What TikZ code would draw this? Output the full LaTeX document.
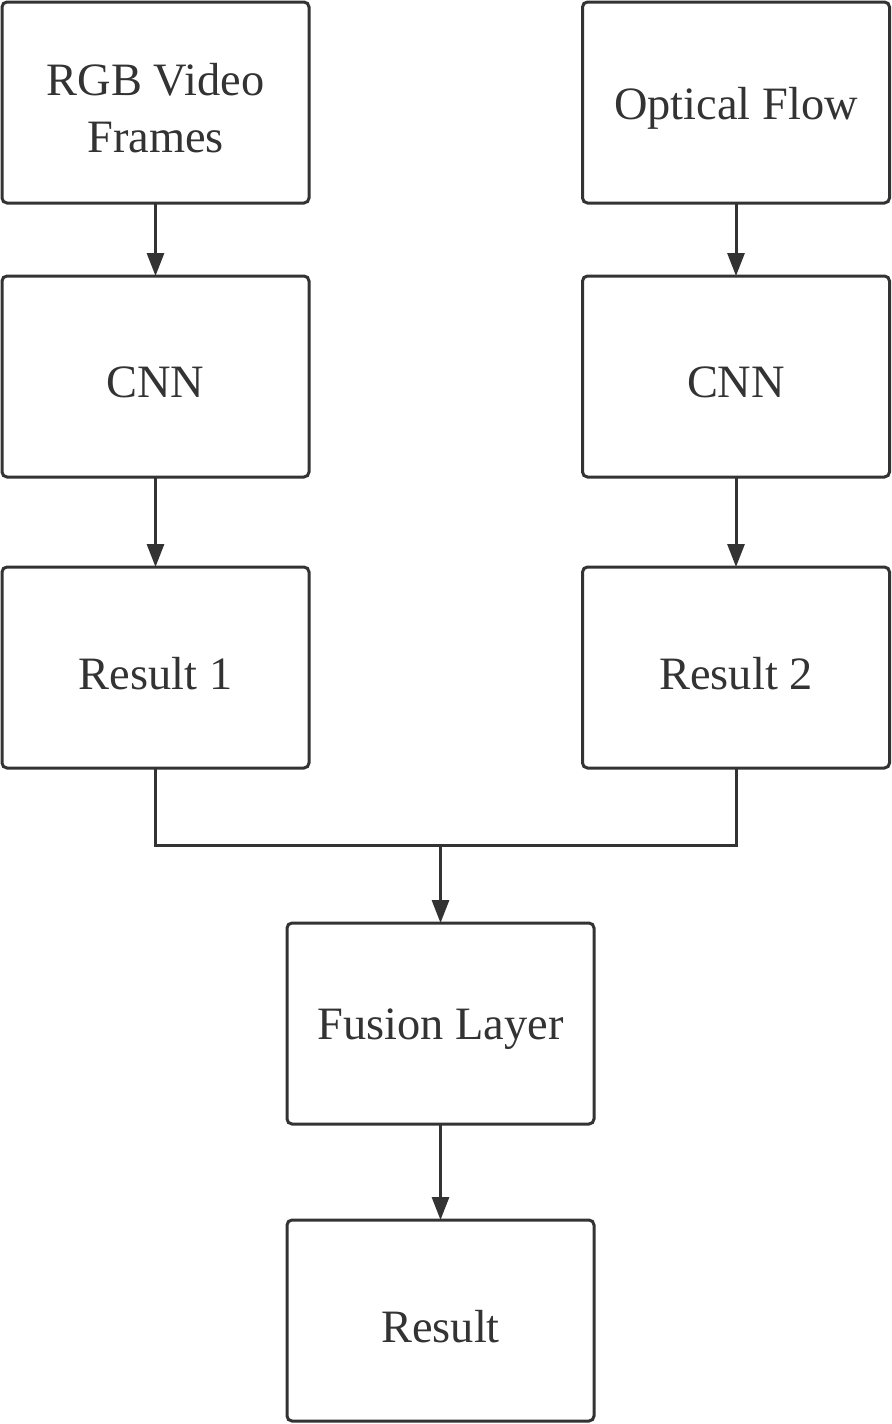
\documentclass[tikz,border=0pt]{standalone}
\usepackage{fontspec}
\setmainfont{Liberation Serif}
\usetikzlibrary{arrows.meta}
\definecolor{ink}{HTML}{333333}
\begin{document}
\begin{tikzpicture}[x=0.5pt,y=-0.5pt,
  box/.style={draw=ink, line width=1.5pt, rounded corners=2.5pt, minimum width=153.5pt, minimum height=100.5pt, inner sep=0pt, outer sep=0pt},
  txt/.style={align=center, text=ink, inner sep=0pt, font=\fontsize{23.2}{28.5}\selectfont},
  conn/.style={draw=ink, line width=1.5pt, -{Triangle[width=8.5pt,length=11.5pt]}},
  link/.style={draw=ink, line width=1.5pt}]
\useasboundingbox (0,0) rectangle (892,1424);
\node[box] (rgb) at (155.5,102.5) {};
\node[box] (of) at (736,102.5) {};
\node[box] (cnn1) at (155.5,376.5) {};
\node[box] (cnn2) at (736,376.5) {};
\node[box] (r1) at (155.5,667.5) {};
\node[box] (r2) at (736,667.5) {};
\node[box] (fus) at (440.5,1023.5) {};
\node[box] (res) at (440.5,1320.5) {};
\node[txt] (trgb) at ([yshift=-3pt]rgb.center) {RGB Video\\Frames};
\node[txt] (tof) at ([yshift=-3pt]of.center) {Optical Flow};
\node[txt] (tcnn1) at ([yshift=-3pt]cnn1.center) {CNN};
\node[txt] (tcnn2) at ([yshift=-3pt]cnn2.center) {CNN};
\node[txt] (tr1) at ([yshift=-3pt]r1.center) {Result 1};
\node[txt] (tr2) at ([yshift=-3pt]r2.center) {Result 2};
\node[txt] (tfus) at ([yshift=-3pt]fus.center) {Fusion Layer};
\node[txt] (tres) at ([yshift=-3pt]res.center) {Result};
\coordinate (m) at (440.5,845);
\draw[conn] (rgb) -- (cnn1);
\draw[conn] (of) -- (cnn2);
\draw[conn] (cnn1) -- (r1);
\draw[conn] (cnn2) -- (r2);
\draw[link] (r1.south) |- (m) -| (r2.south);
\draw[conn] (m) -- (fus);
\draw[conn] (fus) -- (res);
\end{tikzpicture}
\end{document}
